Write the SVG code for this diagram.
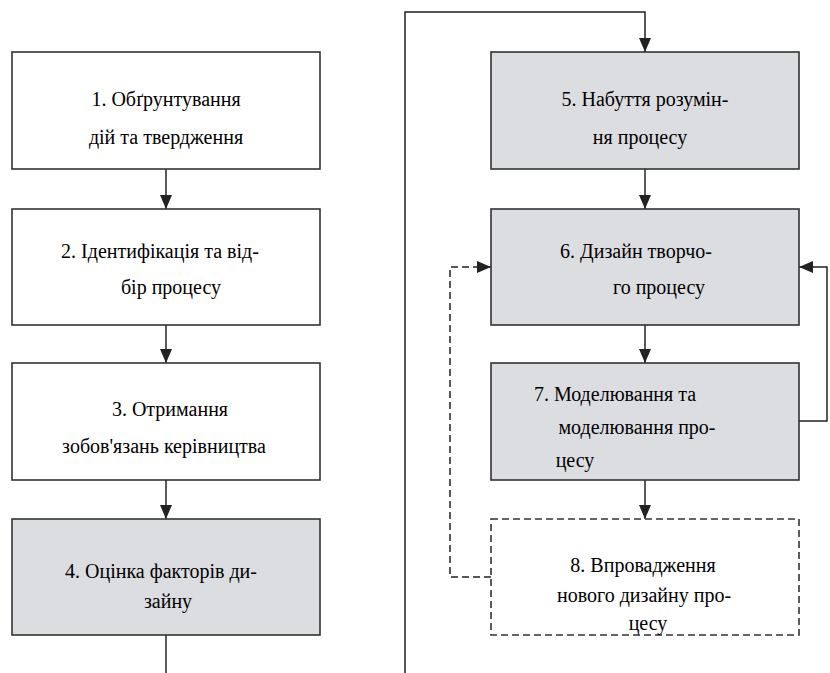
<svg xmlns="http://www.w3.org/2000/svg" width="830" height="673" viewBox="0 0 830 673">
<defs>
<marker id="ah" viewBox="0 0 14 14" refX="14" refY="7" markerWidth="14" markerHeight="14" markerUnits="userSpaceOnUse" orient="auto">
<path d="M0,1 L14,7 L0,13 Z" fill="#222"/>
</marker>
</defs>
<rect width="830" height="673" fill="#fff"/>
<g id="connectors" fill="none" stroke="#222" stroke-width="1.5">
<line x1="166" y1="169" x2="166" y2="209" marker-end="url(#ah)"/>
<line x1="166" y1="325" x2="166" y2="363" marker-end="url(#ah)"/>
<line x1="166" y1="480" x2="166" y2="519" marker-end="url(#ah)"/>
<line x1="166" y1="635" x2="166" y2="673"/>
<polyline points="405,673 405,12 645,12 645,52" marker-end="url(#ah)"/>
<line x1="645" y1="169" x2="645" y2="209" marker-end="url(#ah)"/>
<line x1="645" y1="325" x2="645" y2="363" marker-end="url(#ah)"/>
<line x1="645" y1="480" x2="645" y2="519" marker-end="url(#ah)"/>
<polyline points="799,421 827,421 827,267 799,267" marker-end="url(#ah)"/>
<polyline points="491,577 450,577 450,267 491,267" stroke-dasharray="7 4" marker-end="url(#ah)"/>
</g>
<g id="n1"><rect x="12" y="52" width="308" height="117" fill="#fff" stroke="#333" stroke-width="1.6"/>
<text x="166" y="106" text-anchor="middle" font-family="Times New Roman, Liberation Serif, DejaVu Serif, serif" font-size="20">1. Обґрунтування</text>
<text x="166" y="144" text-anchor="middle" font-family="Times New Roman, Liberation Serif, DejaVu Serif, serif" font-size="20">дій та твердження</text></g>
<g id="n2"><rect x="12" y="209" width="308" height="116" fill="#fff" stroke="#333" stroke-width="1.6"/>
<text x="160" y="258" text-anchor="middle" font-family="Times New Roman, Liberation Serif, DejaVu Serif, serif" font-size="20">2. Ідентифікація та від-</text>
<text x="171" y="294" text-anchor="middle" font-family="Times New Roman, Liberation Serif, DejaVu Serif, serif" font-size="20">бір процесу</text></g>
<g id="n3"><rect x="12" y="363" width="308" height="117" fill="#fff" stroke="#333" stroke-width="1.6"/>
<text x="170" y="416" text-anchor="middle" font-family="Times New Roman, Liberation Serif, DejaVu Serif, serif" font-size="20">3.  Отримання</text>
<text x="164" y="453" text-anchor="middle" font-family="Times New Roman, Liberation Serif, DejaVu Serif, serif" font-size="20">зобов'язань керівництва</text></g>
<g id="n4"><rect x="12" y="519" width="308" height="116" fill="#dcdde0" stroke="#333" stroke-width="1.6"/>
<text x="161" y="578" text-anchor="middle" font-family="Times New Roman, Liberation Serif, DejaVu Serif, serif" font-size="20">4. Оцінка факторів ди-</text>
<text x="168" y="608" text-anchor="middle" font-family="Times New Roman, Liberation Serif, DejaVu Serif, serif" font-size="20">зайну</text></g>
<g id="n5"><rect x="491" y="52" width="308" height="117" fill="#dcdde0" stroke="#333" stroke-width="1.6"/>
<text x="645" y="106" text-anchor="middle" font-family="Times New Roman, Liberation Serif, DejaVu Serif, serif" font-size="20">5. Набуття розумін-</text>
<text x="640" y="144" text-anchor="middle" font-family="Times New Roman, Liberation Serif, DejaVu Serif, serif" font-size="20">ня процесу</text></g>
<g id="n6"><rect x="491" y="209" width="308" height="116" fill="#dcdde0" stroke="#333" stroke-width="1.6"/>
<text x="636" y="258" text-anchor="middle" font-family="Times New Roman, Liberation Serif, DejaVu Serif, serif" font-size="20">6. Дизайн творчо-</text>
<text x="659" y="294" text-anchor="middle" font-family="Times New Roman, Liberation Serif, DejaVu Serif, serif" font-size="20">го процесу</text></g>
<g id="n7"><rect x="491" y="363" width="308" height="117" fill="#dcdde0" stroke="#333" stroke-width="1.6"/>
<text x="615" y="401" text-anchor="middle" font-family="Times New Roman, Liberation Serif, DejaVu Serif, serif" font-size="20">7. Моделювання та</text>
<text x="637" y="434" text-anchor="middle" font-family="Times New Roman, Liberation Serif, DejaVu Serif, serif" font-size="20">моделювання про-</text>
<text x="575" y="467" text-anchor="middle" font-family="Times New Roman, Liberation Serif, DejaVu Serif, serif" font-size="20">цесу</text></g>
<g id="n8"><rect x="491" y="519" width="308" height="116" fill="#fff" stroke="#333" stroke-width="1.6" stroke-dasharray="7 4"/>
<text x="643" y="572" text-anchor="middle" font-family="Times New Roman, Liberation Serif, DejaVu Serif, serif" font-size="20">8. Впровадження</text>
<text x="644" y="602" text-anchor="middle" font-family="Times New Roman, Liberation Serif, DejaVu Serif, serif" font-size="20">нового дизайну про-</text>
<text x="648" y="630" text-anchor="middle" font-family="Times New Roman, Liberation Serif, DejaVu Serif, serif" font-size="20">цесу</text></g>
</svg>
